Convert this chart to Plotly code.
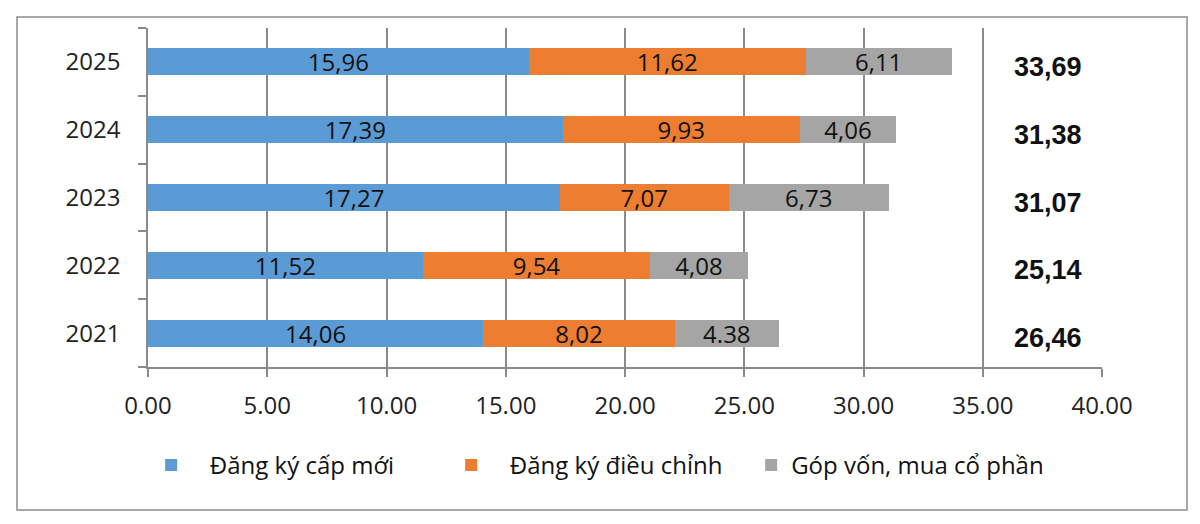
import plotly.graph_objects as go

years = ["2021", "2022", "2023", "2024", "2025"]
series_names = ["   Đăng ký cấp mới", "   Đăng ký điều chỉnh", "Góp vốn, mua cổ phần"]
dang_ky_cap_moi = [14.06, 11.52, 17.27, 17.39, 15.96]
dang_ky_dieu_chinh = [8.02, 9.54, 7.07, 9.93, 11.62]
gop_von = [4.38, 4.08, 6.73, 4.06, 6.11]
labels_cap_moi = ["14,06", "11,52", "17,27", "17,39", "15,96"]
labels_dieu_chinh = ["8,02", "9,54", "7,07", "9,93", "11,62"]
labels_gop_von = ["4.38", "4,08", "6,73", "4,06", "6,11"]
totals = [26.46, 25.14, 31.07, 31.38, 33.69]
total_labels = ["26,46", "25,14", "31,07", "31,38", "33,69"]
x_ticks = [0, 5, 10, 15, 20, 25, 30, 35, 40]

colors = ["#5B9BD5", "#ED7D31", "#A5A5A5"]
FONT = "Open Sans"
TOTAL_COLUMN_X = 37.75

fig = go.Figure()
for name, vals, labs, col in zip(
    series_names,
    [dang_ky_cap_moi, dang_ky_dieu_chinh, gop_von],
    [labels_cap_moi, labels_dieu_chinh, labels_gop_von],
    colors,
):
    fig.add_trace(go.Bar(
        y=years, x=vals, name=name, orientation="h",
        marker=dict(color=col, line=dict(width=0)),
        text=labs, textposition="inside", insidetextanchor="middle",
        textangle=0, constraintext="none",
        textfont=dict(family=FONT, size=24, color="#111111"),
        hoverinfo="skip",
    ))

# totals column to the right (annotations placed on category index)
for i, lab in enumerate(total_labels):
    fig.add_annotation(
        x=TOTAL_COLUMN_X, y=i, xref="x", yref="y", text="<b>%s</b>" % lab,
        showarrow=False, yshift=-5,
        font=dict(family="Liberation Sans", size=27, color="#111111"),
    )

# outer chart border
fig.add_shape(type="rect", xref="paper", yref="paper",
              x0=-0.1373, x1=1.0891, y0=-0.4218, y1=1.0324,
              line=dict(color="#8C8C8C", width=1.5), fillcolor="rgba(0,0,0,0)")

fig.update_layout(
    width=1192, height=516,
    margin=dict(l=140, r=98, t=20, b=157),
    barmode="stack", bargap=0.6,
    plot_bgcolor="white", paper_bgcolor="white",
    showlegend=True,
    legend=dict(orientation="h", x=0.475, xanchor="center", y=-0.29, yanchor="middle",
                font=dict(family=FONT, size=24, color="#111111"),
                entrywidth=255, entrywidthmode="pixels", traceorder="normal"),
    xaxis=dict(range=[0, 40], tickvals=x_ticks, tickformat=".2f",
               showgrid=True, gridcolor="#8A8A8A", gridwidth=1.5,
               showline=True, linecolor="#8A8A8A", linewidth=1.5,
               ticks="outside", ticklen=8, tickcolor="#8A8A8A", tickwidth=1.5,
               ticklabelstandoff=8, zeroline=False,
               tickfont=dict(family=FONT, size=24, color="#222222")),
    yaxis=dict(type="category", categoryorder="array", categoryarray=years,
               range=[-0.5, len(years) - 0.5],
               showline=True, linecolor="#8A8A8A", linewidth=1.5,
               ticks="outside", ticklen=8, tickcolor="#8A8A8A", tickwidth=1.5,
               tickson="boundaries", showgrid=False, ticklabelstandoff=21,
               tickfont=dict(family=FONT, size=24, color="#222222")),
)

fig.write_html("out.html")
